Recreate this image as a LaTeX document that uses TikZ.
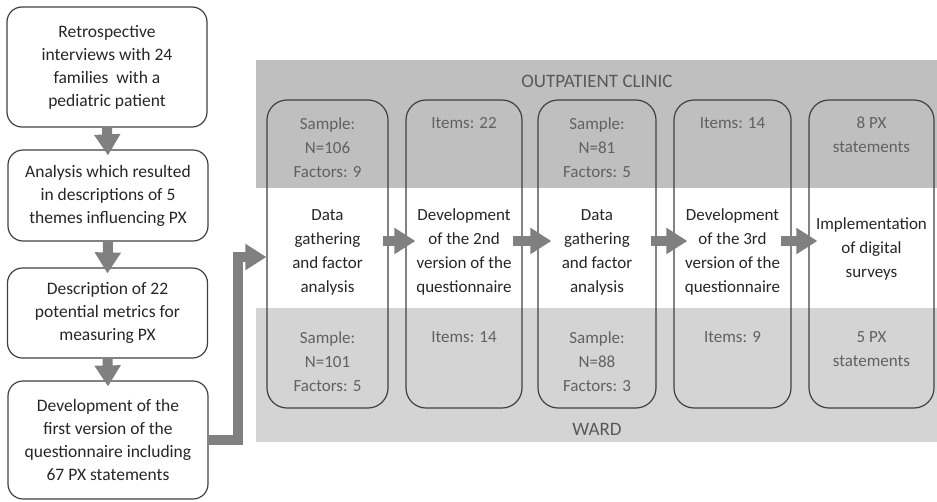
\documentclass[tikz,border=0pt]{standalone}
\usepackage{fontspec}
\setmainfont{Carlito}
\usetikzlibrary{arrows.meta,calc}

\tikzset{
  stepbox/.style={draw=black!75, line width=1.2pt, rounded corners=15pt, align=center,
    minimum width=200pt, inner sep=0pt, text=black!85, font=\fontsize{17.5}{23}\selectfont},
  phasebox/.style={draw=black!75, line width=1.2pt, rounded corners=20pt, minimum height=308pt, inner sep=0pt},
  phasetext/.style={align=center, inner sep=0pt, text=black!85, font=\fontsize{17}{24}\selectfont},
  infotext/.style={align=center, inner sep=0pt, anchor=north, text=black!62, font=\fontsize{17}{24}\selectfont},
  bandlabel/.style={inner sep=0pt, text=black!65, font=\fontsize{19}{22}\selectfont},
  fatarrow/.style={draw=black!50, line width=10pt, -{Triangle[length=21pt,width=25pt]}}
}

\begin{document}
\begin{tikzpicture}[x=1pt,y=-1pt]
		\useasboundingbox (0,0) rectangle (937,501);
		
		% bands
		\fill[black!25] (256,60) rectangle (937,188);
		\fill[black!17] (256,308) rectangle (937,442);
		\node[bandlabel] (clinic) at (597,81) {OUTPATIENT CLINIC};
		\node[bandlabel] (ward) at (597,429) {WARD};
		
		% left column
		\node[stepbox, minimum height=120pt] (l1) at (107,67) {Retrospective\\interviews with 24\\families\ \ with a\\pediatric patient};
		\node[stepbox, minimum height=91pt] (l2) at (108,195.5) {Analysis which resulted\\in descriptions of 5\\themes influencing PX};
		\node[stepbox, minimum height=90pt] (l3) at (107.5,313) {Description of 22\\potential metrics for\\measuring PX};
		\node[stepbox, minimum height=118pt] (l4) at (108,440) {Development of the\\first version of the\\questionnaire including\\67 PX statements};
		
		\draw[fatarrow] (l1.south) -- ($(l2.north)+(0,6)$);
		\draw[fatarrow] (l2.south) -- ($(l3.north)+(0,6)$);
		\draw[fatarrow] (l3.south) -- ($(l4.north)+(0,6)$);
		
		% phases
		\node[phasebox, minimum width=121pt] (c1) at (327.5,254) {};
		\node[phasebox, minimum width=116pt] (c2) at (464,254) {};
		\node[phasebox, minimum width=118pt] (c3) at (597,254) {};
		\node[phasebox, minimum width=117pt] (c4) at (732.5,254) {};
		\node[phasebox, minimum width=125pt] (c5) at (871.5,254) {};
		
		\node[phasetext] (c1mid) at (c1.center |- 0,252) {Data\\gathering\\and factor\\analysis};
		\node[phasetext] (c2mid) at (c2.center |- 0,252) {Development\\of the 2nd\\version of the\\questionnaire};
		\node[phasetext] (c3mid) at (c3.center |- 0,252) {Data\\gathering\\and factor\\analysis};
		\node[phasetext] (c4mid) at (c4.center |- 0,252) {Development\\of the 3rd\\version of the\\questionnaire};
		\node[phasetext] (c5mid) at (c5.center |- 0,249) {Implementation\\of digital\\surveys};
		
		\node[infotext] (c1top) at (c1.center |- 0,117) {Sample:\\N=106\\Factors: 9};
		\node[infotext] (c2top) at (c2.center |- 0,117) {Items: 22};
		\node[infotext] (c3top) at (c3.center |- 0,117) {Sample:\\N=81\\Factors: 5};
		\node[infotext] (c4top) at (c4.center |- 0,117) {Items: 14};
		\node[infotext] (c5top) at (c5.center |- 0,117) {8 PX\\statements};
		
		\node[infotext] (c1bot) at (c1.center |- 0,331) {Sample:\\N=101\\Factors: 5};
		\node[infotext] (c2bot) at (c2.center |- 0,331) {Items: 14};
		\node[infotext] (c3bot) at (c3.center |- 0,331) {Sample:\\N=88\\Factors: 3};
		\node[infotext] (c4bot) at (c4.center |- 0,331) {Items: 9};
		\node[infotext] (c5bot) at (c5.center |- 0,331) {5 PX\\statements};
		
		\draw[fatarrow] ($(c1.east)+(-6,-13)$) -- ($(c2.west)+(10,-13)$);
		\draw[fatarrow] ($(c2.east)+(-10,-13)$) -- ($(c3.west)+(14,-13)$);
		\draw[fatarrow] ($(c3.east)+(-6,-13)$) -- ($(c4.west)+(14,-13)$);
		\draw[fatarrow] ($(c4.east)+(-11,-13)$) -- ($(c5.west)+(9,-13)$);
		
		% into the first phase
		\coordinate (bend) at (238,257);
		\draw[fatarrow] (l4.east) -| (bend) -- (c1.west |- bend);
		
	\end{tikzpicture}
\end{document}
